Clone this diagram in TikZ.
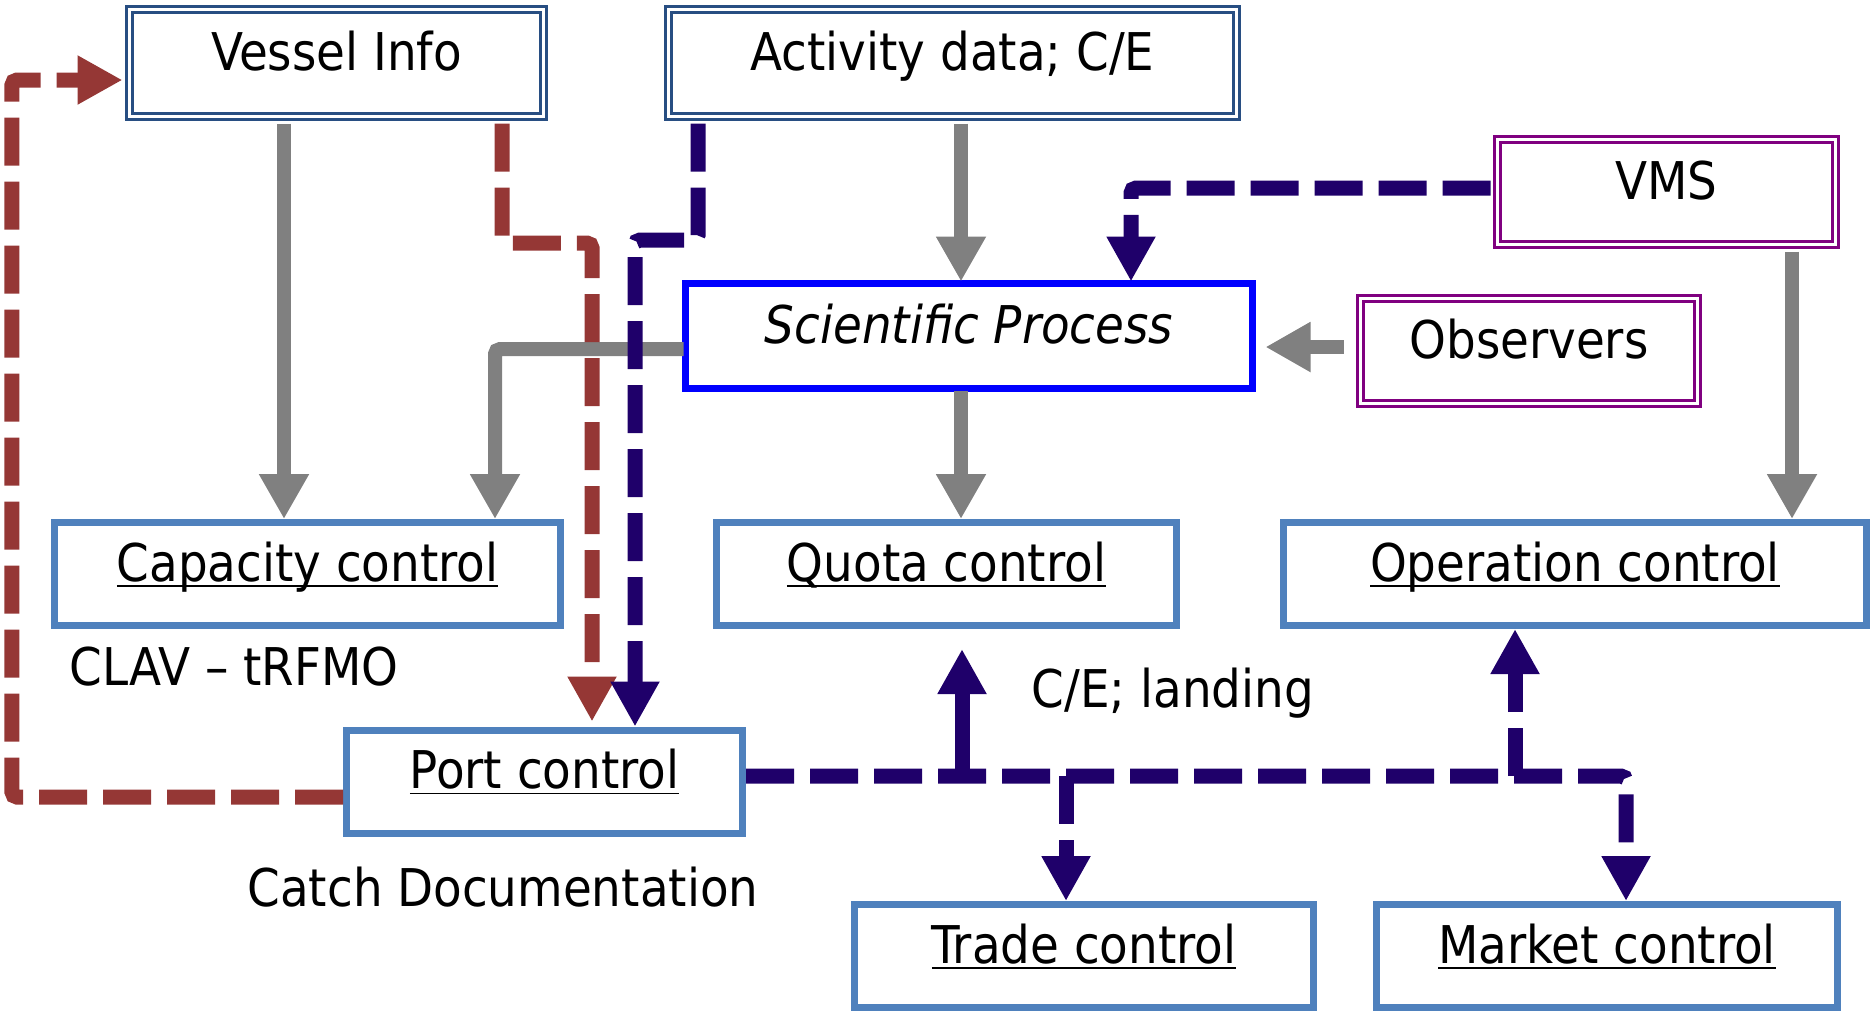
\documentclass[tikz,border=0pt]{standalone}
\usepackage{fontspec}
\setmainfont{DejaVu Sans Condensed}[ItalicFont={DejaVu Sans Condensed Oblique}]
\usetikzlibrary{arrows.meta}

\definecolor{boxblue}{RGB}{79,129,189}
\definecolor{srcblue}{RGB}{40,78,130}
\definecolor{extpurple}{RGB}{128,0,128}
\definecolor{brick}{RGB}{149,55,53}
\definecolor{navy}{RGB}{31,0,106}
\definecolor{feedgray}{RGB}{128,128,128}

\newcommand{\ulined}[1]{$\underline{\smash{\hbox{#1}}}$}

\begin{document}
\begin{tikzpicture}[x=1cm,y=1cm,font=\fontsize{14.8}{17}\selectfont]
\tikzstyle{src}=[rectangle,draw=srcblue,double,double distance=0.85pt,line width=0.85pt,inner sep=0pt,outer sep=0.07cm,minimum height=1.07cm,text height=0.75em,text depth=0.35em]
\tikzstyle{ext}=[rectangle,draw=extpurple,double,double distance=0.85pt,line width=0.85pt,inner sep=0pt,outer sep=0.07cm,minimum height=1.05cm,text height=0.75em,text depth=0.35em]
\tikzstyle{sci}=[rectangle,draw=blue,line width=0.07cm,inner sep=0pt,outer sep=0.02cm,minimum height=1.05cm,text height=0.75em,text depth=0.35em]
\tikzstyle{ctrl}=[rectangle,draw=boxblue,line width=0.07cm,inner sep=0pt,outer sep=0.035cm,minimum height=1.03cm,text height=0.75em,text depth=0.35em]
\tikzstyle{lbl}=[inner sep=0pt,text height=0.73em,text depth=0pt]
\tikzstyle{feed}=[draw=feedgray,line width=0.14cm,rounded corners=0.05cm,-{Triangle[width=0.47cm,length=0.45cm]}]
\tikzstyle{redflow}=[draw=brick,line width=0.15cm,dash pattern=on 0.48cm off 0.16cm,rounded corners=0.05cm,-{Triangle[width=0.46cm,length=0.45cm]}]
\tikzstyle{navyflow}=[draw=navy,line width=0.15cm,dash pattern=on 0.48cm off 0.16cm,rounded corners=0.05cm,-{Triangle[width=0.46cm,length=0.45cm]}]
\tikzstyle{navyup}=[draw=navy,line width=0.15cm,-{Triangle[width=0.46cm,length=0.45cm]}]

\useasboundingbox (0,0) rectangle (18.74,-10.15);

\node[src,minimum width=4.14cm] (vessel) at (3.365,-0.63) {Vessel Info};
\node[src,minimum width=5.68cm] (activity) at (9.525,-0.63) {Activity data; C/E};
\node[ext,minimum width=3.38cm] (vms) at (16.665,-1.92) {VMS};
\node[sci,minimum width=5.67cm] (sci) at (9.69,-3.36) {\itshape Scientific Process};
\node[ext,minimum width=3.37cm] (observers) at (15.29,-3.51) {Observers};

\node[ctrl,minimum width=5.06cm] (capacity) at (3.075,-5.74) {\ulined{Capacity control}};
\node[ctrl,minimum width=4.60cm] (quota) at (9.465,-5.74) {\ulined{Quota control}};
\node[ctrl,minimum width=5.83cm] (operation) at (15.75,-5.74) {\ulined{Operation control}};
\node[ctrl,minimum width=3.96cm] (port) at (5.445,-7.815) {\ulined{Port control}};
\node[ctrl,minimum width=4.59cm] (trade) at (10.84,-9.56) {\ulined{Trade control}};
\node[ctrl,minimum width=4.61cm] (market) at (16.07,-9.56) {\ulined{Market control}};

\node[lbl] (clav) at (2.34,-6.73) {CLAV – tRFMO};
\node[lbl] (catch) at (5.03,-8.94) {Catch Documentation};
\node[lbl] (landing) at (11.73,-6.95) {C/E; landing};

\coordinate (g1) at (2.84,0);
\coordinate (g2) at (9.61,0);
\coordinate (g3) at (17.92,0);
\coordinate (g4) at (0,-3.47);
\coordinate (gA) at (4.95,-3.49);
\draw[feed] (vessel.south -| g1) -- (capacity.north -| g1);
\draw[feed] (activity.south -| g2) -- (sci.north -| g2);
\draw[feed] (sci.south -| g2) -- (quota.north -| g2);
\draw[feed] (vms.south -| g3) -- (operation.north -| g3);
\draw[feed,shorten <=0.1cm,shorten >=0.11cm] (observers.west |- g4) -- (sci.east |- g4);
\draw[feed] (sci.west |- gA) -- (gA) -- (capacity.north -| gA);

\coordinate (rA) at (5.02,-2.43);
\coordinate (rB) at (5.92,-2.43);
\draw[redflow,shorten >=0.05cm] (vessel.south -| rA) -- (rA) -- (rB) -- (port.north -| rB);
\coordinate (rC) at (0.12,-7.97);
\coordinate (rD) at (0.12,-0.80);
\draw[redflow] (port.west |- rC) -- (rC) -- (rD) -- (vessel.west |- rD);

\coordinate (nA) at (6.98,-2.40);
\coordinate (nB) at (6.35,-2.40);
\draw[navyflow] (activity.south -| nA) -- (nA) -- (nB) -- (port.north -| nB);
\coordinate (vA) at (11.31,-1.88);
\draw[navyflow] (vms.west |- vA) -- (vA) -- (sci.north -| vA);

\coordinate (bus) at (16.26,-7.76);
\coordinate (qA) at (9.62,-7.76);
\coordinate (tA) at (10.66,-7.76);
\coordinate (oA) at (15.15,-7.76);
\draw[navyflow] (port.east |- bus) -- (bus) -- (market.north -| bus);
\draw[navyup,shorten >=0.2cm] (qA) -- (quota.south -| qA);
\draw[navyflow] (tA) -- (trade.north -| tA);
\draw[navyflow] (oA) -- (operation.south -| oA);

\end{tikzpicture}
\end{document}
